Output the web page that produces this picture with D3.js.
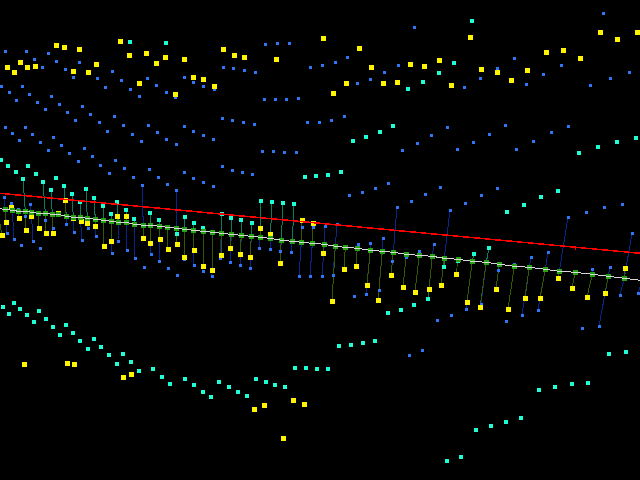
<!DOCTYPE html>
<html>
<head>
<meta charset="utf-8">
<script src="https://cdn.jsdelivr.net/npm/d3@7/dist/d3.min.js"></script>
<style>
  html, body { margin: 0; padding: 0; background: #000; overflow: hidden; }
  svg { display: block; }
</style>
</head>
<body>
<div id="plot"></div>
<script>
// fitted line, x and y of each foot point
var fitX = [-3,5.3,12.3,18.3,25.3,31.3,38.3,45.3,52.3,58.3,66.3,73.3,80.3,87.3,95.3,103.3,111.3,118.3,126.3,134.3,143.3,150.3,159.5,167.3,176.3,184.3,193.3,203.3,212.3,221.3,231.3,241.3,251.3,260.3,270.3,281.3,292.3,301.3,312.3,324.3,335.3,345.3,357.3,370.3,382.3,393.3,406.3,419.3,432.3,444.3,458.3,472.3,486.3,499.3,514.3,529.3,545.3,559.3,575.3,592.3,608.3,624.3,642];
var fitY = [208.6,209.3,210.3,211.3,211.3,212.3,213.3,213.3,214.3,214.3,216.3,217.3,217.3,218.3,219.3,220.3,221.3,222.3,222.3,224.3,225.3,225.3,226.3,227.3,228.3,229.3,230.3,231.3,232.3,233.3,234.3,235.3,236.3,237.3,238.3,240.3,241.3,242.3,243.3,244.3,246.3,247.3,248.3,250.3,251.3,252.3,254.3,255.3,256.3,258.3,259.3,261.3,262.3,264.3,266.3,267.3,269.3,271.3,272.3,274.3,276.3,278.3,280.5];

// straight reference line and the small tick on it
var refLine = [[0,193.3],[640,253.3]];
var refTicks = [[575,248]];

// points with a residual stem: x, y, index into fitX
var yellowLinked = [[2,235,0],[6,222,1],[11,207,2],[19,218,3],[26,230,4],[31,216,5],[39,228,6],[46,233,7],[53,233,8],[58,213,9],[65,200,10],[73,218,11],[81,221,12],[87,223,13],[95,226,14],[104,247,15],[111,241,16],[117,216,17],[126,216,18],[134,224,19],[143,238,20],[150,243,21],[160,239,22],[168,249,23],[177,245,24],[184,257,25],[194,250,26],[203,266,27],[212,270,28],[221,255,29],[230,248,30],[240,254,31],[250,257,32],[260,228,33],[270,234,34],[280,263,35],[302,220,37],[313,223,38],[323,253,39],[332,301,40],[344,269,41],[356,266,42],[367,285,43],[378,300,44],[391,275,45],[403,287,46],[415,292,47],[429,289,48],[441,285,49],[456,274,50],[467,302,51],[480,307,52],[496,289,53],[508,309,54],[525,298,55],[540,298,56],[558,278,57],[572,288,58],[587,297,59],[605,293,60],[625,268,61]];
var cyanLinked = [[23,179,4],[43,182,7],[51,190,8],[64,186,10],[72,194,11],[80,202,12],[86,189,13],[94,198,14],[103,206,15],[111,214,16],[117,202,17],[126,210,18],[134,219,19],[150,213,21],[159,220,22],[177,234,24],[185,217,25],[194,223,26],[203,228,27],[222,214,29],[231,218,30],[241,220,31],[252,223,32],[261,201,33],[272,202,34],[283,203,35],[294,204,36],[428,299,48],[444,267,49],[458,261,50],[474,254,51],[489,248,52]];
var blueLinked = [[4,197,1],[7,233,1],[11,203,2],[14,239,2],[18,209,3],[25,216,4],[30,204,5],[33,241,5],[45,220,7],[53,228,8],[66,224,10],[74,232,11],[82,240,12],[88,228,13],[96,236,14],[112,253,16],[118,241,17],[127,250,18],[135,258,19],[142,185,20],[151,254,21],[159,261,22],[176,190,24],[184,259,25],[194,265,26],[203,271,27],[212,276,28],[220,258,29],[230,262,30],[240,265,31],[250,268,32],[259,248,33],[270,249,34],[280,251,35],[291,252,36],[302,227,37],[299,276,37],[313,227,38],[310,276,38],[325,226,39],[322,276,39],[337,224,40],[333,275,40],[358,245,42],[370,243,43],[366,294,43],[383,238,44],[379,290,44],[397,207,45],[392,261,45],[406,257,46],[419,251,47],[434,244,48],[450,210,49],[466,309,51],[481,304,52],[498,270,53],[514,264,54],[531,257,55],[522,315,55],[548,252,56],[538,310,56],[568,217,57],[592,269,59],[610,267,60],[599,326,60],[632,233,61],[620,295,61],[638,293,62]];

// points without a stem
var yellowFree = [[7,67],[14,72],[20,62],[27,67],[35,66],[56,45],[64,47],[79,49],[73,71],[88,72],[96,64],[120,41],[129,55],[146,53],[156,63],[165,57],[139,83],[184,59],[175,94],[193,77],[203,79],[214,86],[223,49],[234,55],[244,57],[276,59],[323,38],[359,48],[371,67],[346,83],[333,93],[383,83],[397,82],[410,64],[424,66],[439,60],[451,85],[470,37],[481,69],[497,72],[511,80],[527,70],[546,52],[563,50],[580,58],[600,32],[617,39],[637,32],[24,364],[67,363],[74,364],[123,377],[131,374],[254,409],[264,405],[293,400],[304,404],[283,438]];
var cyanFree = [[130,42],[166,43],[472,21],[454,63],[439,73],[423,82],[408,89],[393,126],[380,132],[366,137],[353,141],[579,153],[598,147],[617,142],[636,138],[507,212],[524,205],[541,197],[558,191],[305,177],[316,176],[328,175],[341,172],[1,160],[8,166],[16,172],[28,166],[36,174],[56,178],[3,307],[9,314],[14,303],[20,309],[27,315],[34,322],[39,311],[46,319],[53,327],[60,335],[66,325],[73,333],[80,341],[88,349],[94,339],[101,347],[109,355],[117,364],[123,354],[131,362],[139,371],[153,369],[162,377],[170,384],[185,379],[194,385],[203,392],[211,397],[219,382],[229,387],[238,392],[247,396],[256,379],[266,382],[275,385],[285,387],[295,368],[306,368],[317,369],[328,369],[339,346],[351,345],[363,343],[375,341],[388,313],[401,310],[414,305],[447,461],[461,457],[476,430],[491,426],[506,422],[521,418],[539,390],[555,387],[572,384],[588,383],[609,354],[626,352]];
var blueFree = [[5,51],[26,51],[48,53],[34,59],[56,61],[42,67],[65,69],[79,62],[88,71],[73,77],[97,78],[112,71],[121,80],[147,78],[156,85],[130,89],[139,96],[105,87],[1,86],[22,86],[9,92],[29,94],[16,100],[37,102],[51,96],[45,109],[59,104],[67,112],[82,106],[75,120],[90,114],[99,122],[114,116],[123,125],[107,131],[132,134],[141,141],[148,125],[157,132],[166,139],[176,144],[184,126],[193,131],[203,135],[213,139],[184,77],[193,82],[203,86],[214,89],[166,92],[175,97],[223,67],[233,68],[244,70],[255,72],[265,44],[277,43],[289,43],[264,99],[275,99],[286,99],[298,98],[310,67],[307,123],[319,122],[222,118],[232,120],[243,122],[254,124],[262,151],[273,151],[284,152],[296,152],[5,127],[25,127],[12,133],[32,134],[19,140],[40,142],[53,137],[61,145],[48,150],[69,153],[84,148],[92,156],[115,160],[78,161],[100,165],[124,168],[109,173],[133,177],[149,169],[158,177],[167,184],[184,172],[193,178],[203,182],[213,186],[222,166],[232,170],[242,172],[252,174],[414,27],[603,13],[322,65],[335,62],[347,57],[384,72],[398,65],[357,83],[370,79],[480,78],[464,87],[497,68],[514,58],[526,84],[543,74],[561,65],[590,85],[610,78],[629,72],[331,120],[344,116],[447,127],[431,135],[417,143],[402,150],[505,125],[489,134],[473,142],[457,149],[568,126],[551,132],[533,141],[516,149],[349,195],[362,192],[375,188],[388,183],[411,201],[425,194],[440,187],[465,203],[481,195],[497,188],[586,212],[604,207],[622,204],[21,246],[40,248],[144,267],[168,268],[177,275],[354,296],[409,355],[422,350],[437,320],[451,315],[506,321],[582,328]];

var width = 640, height = 480;

var x = d3.scaleLinear().domain([0, 640]).range([0, width]);
var y = d3.scaleLinear().domain([0, 480]).range([0, height]);

var svg = d3.select("#plot")
  .append("svg")
    .attr("width", width)
    .attr("height", height)
    .attr("shape-rendering", "crispEdges")
    .style("background", "#000");

function stems(data, color) {
  svg.append("g").selectAll("line")
      .data(data)
      .enter()
      .append("line")
        .attr("x1", function(d) { return x(d[0]); })
        .attr("y1", function(d) { return y(d[1]); })
        .attr("x2", function(d) { return x(fitX[d[2]]); })
        .attr("y2", function(d) { return y(fitY[d[2]]); })
        .attr("stroke", color)
        .attr("stroke-width", 1);
}

function squares(data, size, color) {
  svg.append("g").selectAll("rect")
      .data(data)
      .enter()
      .append("rect")
        .attr("x", function(d) { return Math.round(x(d[0]) - size / 2); })
        .attr("y", function(d) { return Math.round(y(d[1]) - size / 2); })
        .attr("width", size)
        .attr("height", size)
        .attr("fill", color);
}

stems(blueLinked, "#08268a");
stems(cyanLinked, "#0b7a5e");
stems(yellowLinked, "#355800");

squares(blueFree.concat(blueLinked), 3, "#2e76f5");
squares(cyanFree.concat(cyanLinked), 4, "#1fffd6");
squares(yellowFree.concat(yellowLinked), 5, "#fff500");

// green feet, then the fit line through them
squares(d3.zip(fitX, fitY), 5, "#22a511");

var line = d3.line()
    .x(function(d) { return x(d[0]); })
    .y(function(d) { return y(d[1]); });

svg.append("path")
    .datum(d3.zip(fitX, fitY))
    .attr("d", line)
    .attr("fill", "none")
    .attr("stroke", "#d8d8d8")
    .attr("stroke-width", 1);

svg.append("path")
    .datum(refLine)
    .attr("d", line)
    .attr("fill", "none")
    .attr("stroke", "#ff0000")
    .attr("stroke-width", 1.5);

svg.append("g").selectAll("line")
    .data(refTicks)
    .enter()
    .append("line")
      .attr("x1", function(d) { return x(d[0]); })
      .attr("x2", function(d) { return x(d[0]); })
      .attr("y1", function(d) { return y(d[1]) - 2; })
      .attr("y2", function(d) { return y(d[1]) + 2; })
      .attr("stroke", "#ff0000")
      .attr("stroke-width", 1);
</script>
</body>
</html>
